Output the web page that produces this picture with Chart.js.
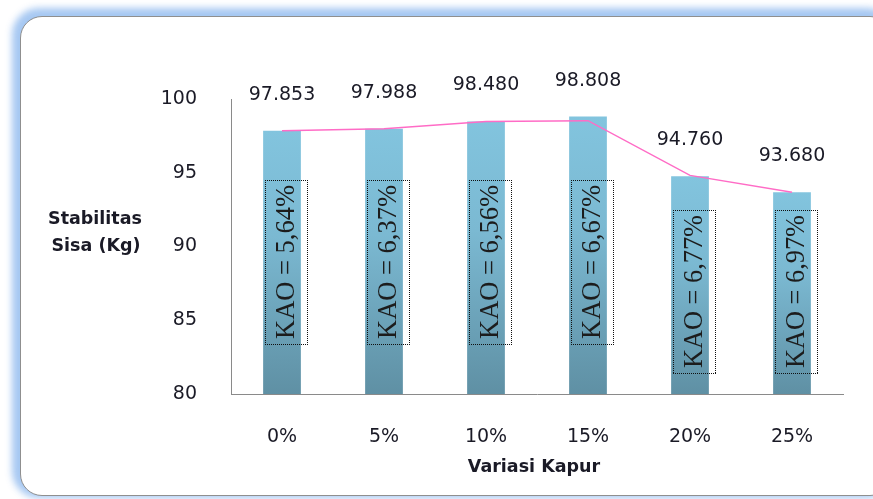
<!DOCTYPE html>
<html lang="id">
<head>
    <meta charset="UTF-8">
    <title>Stabilitas Sisa</title>
    <script src="https://cdn.jsdelivr.net/npm/chart.js@4.4.1/dist/chart.umd.min.js"></script>
    <style>
        html, body {
            margin: 0;
            padding: 0;
            background: #fff;
            overflow: hidden;
        }
        #card {
            position: absolute;
            left: 20px;
            top: 16px;
            width: 870px;
            height: 478px;
            border: 1px solid #8f8f8f;
            border-radius: 22px;
            background: #fff;
            box-shadow: -3px -3px 7px 5px rgba(150, 190, 240, 0.85);
        }
        #wrap {
            position: absolute;
            left: 0;
            top: 0;
            width: 873px;
            height: 499px;
        }
    </style>
</head>
<body>
    <div id="card"></div>
    <div id="wrap">
        <canvas id="myChart"></canvas>
    </div>

    <script>
        const categories = ['0%', '5%', '10%', '15%', '20%', '25%'];
        const stabilitas = [97.853, 97.988, 98.480, 98.808, 94.760, 93.680];
        const trendLine = [97.85, 97.99, 98.48, 98.53, 94.82, 93.68];
        const kaoLabels = ['KAO = 5,64%', 'KAO = 6,37%', 'KAO = 6,56%', 'KAO = 6,67%', 'KAO = 6,77%', 'KAO = 6,97%'];
        const yTicks = [80, 85, 90, 95, 100];
        const yTitle = ['Stabilitas', 'Sisa (Kg)'];
        const xTitle = 'Variasi Kapur';

        const textColor = '#1a1a26';
        const tickFont = { family: 'DejaVu Sans', size: 19 };
        const BAR_SET = 1; // index of the bar dataset

        function barFill(c) {
            if (c.type !== 'data' || !c.chart.chartArea) return '#78b6cf';
            const y = c.chart.scales.y;
            const top = y.getPixelForValue(c.raw);
            const bottom = y.getPixelForValue(y.min);
            const g = c.chart.ctx.createLinearGradient(0, top, 0, bottom);
            g.addColorStop(0, '#82c4de');
            g.addColorStop(0.4, '#7bb9d2');
            g.addColorStop(1, '#5f90a4');
            return g;
        }

        // value labels above the bars
        const valueLabels = {
            id: 'valueLabels',
            afterDatasetsDraw(chart) {
                const ctx = chart.ctx;
                const meta = chart.getDatasetMeta(BAR_SET);
                ctx.save();
                ctx.font = '19px "DejaVu Sans"';
                ctx.fillStyle = textColor;
                ctx.textAlign = 'center';
                ctx.textBaseline = 'middle';
                meta.data.forEach((bar, i) => {
                    ctx.fillText(stabilitas[i].toFixed(3), bar.x, bar.y - 36);
                });
                ctx.restore();
            }
        };

        // dotted KAO boxes with rotated text
        const kaoBoxes = {
            id: 'kaoBoxes',
            afterDatasetsDraw(chart, args, opts) {
                const ctx = chart.ctx;
                const y = chart.scales.y;
                const meta = chart.getDatasetMeta(BAR_SET);
                meta.data.forEach((bar, i) => {
                    const span = opts.spans[i];
                    const top = Math.round(y.getPixelForValue(span[1]));
                    const bottom = Math.round(y.getPixelForValue(span[0]));
                    const left = Math.round(bar.x - bar.width / 2 + 2);
                    const right = Math.round(bar.x + bar.width / 2 + 6);

                    ctx.save();
                    // dotted frame, one dot every second pixel
                    ctx.fillStyle = '#101010';
                    for (let x = left; x <= right; x += 2) {
                        ctx.fillRect(x, top, 1, 1);
                        ctx.fillRect(x, bottom, 1, 1);
                    }
                    for (let yy = top; yy <= bottom; yy += 2) {
                        ctx.fillRect(left, yy, 1, 1);
                        ctx.fillRect(right, yy, 1, 1);
                    }

                    ctx.translate((left + right) / 2, (top + bottom) / 2);
                    ctx.rotate(-Math.PI / 2);
                    ctx.font = '28px "Liberation Serif"';
                    const w = ctx.measureText(kaoLabels[i]).width;
                    ctx.scale((bottom - top - 10) / w, 1);
                    ctx.fillStyle = '#1c1c1c';
                    ctx.textAlign = 'center';
                    ctx.textBaseline = 'middle';
                    ctx.fillText(kaoLabels[i], 0, 1);
                    ctx.restore();
                });
            }
        };

        // horizontal axis titles like the spreadsheet chart
        const axisTitles = {
            id: 'axisTitles',
            afterDraw(chart) {
                const ctx = chart.ctx;
                const area = chart.chartArea;
                ctx.save();
                ctx.font = 'bold 17.5px "DejaVu Sans"';
                ctx.fillStyle = textColor;
                ctx.textAlign = 'center';
                ctx.textBaseline = 'middle';
                ctx.fillText(yTitle[0], 95, 219);
                ctx.fillText(yTitle[1], 96, 246);
                ctx.fillText(xTitle, (area.left + area.right) / 2 - 3, 467);
                ctx.restore();
            }
        };

        const ctx = document.getElementById('myChart').getContext('2d');
        const chart = new Chart(ctx, {
            data: {
                labels: categories,
                datasets: [
                    {
                        type: 'line',
                        label: 'Trend',
                        data: trendLine,
                        borderColor: '#ff6cc6',
                        borderWidth: 1.5,
                        pointRadius: 0,
                        tension: 0,
                        order: 0
                    },
                    {
                        type: 'bar',
                        label: 'Stabilitas Sisa',
                        data: stabilitas,
                        backgroundColor: barFill,
                        borderWidth: 0,
                        categoryPercentage: 1,
                        barPercentage: 0.37,
                        order: 1
                    }
                ]
            },
            options: {
                responsive: true,
                maintainAspectRatio: false,
                animation: false,
                layout: {
                    padding: { left: 0, top: 99, right: 30, bottom: 0 }
                },
                plugins: {
                    legend: { display: false },
                    tooltip: { enabled: false },
                    kaoBoxes: {
                        spans: [[83.4, 94.5], [83.4, 94.5], [83.4, 94.5], [83.4, 94.5], [81.4, 92.5], [81.4, 92.5]]
                    }
                },
                scales: {
                    x: {
                        offset: true,
                        grid: { display: false },
                        border: { display: true, color: '#8a8a8a', width: 1 },
                        ticks: { color: textColor, font: tickFont, padding: 24, maxRotation: 0 },
                        afterFit: s => { s.height = 105; }
                    },
                    y: {
                        min: 80,
                        max: 100,
                        grid: { display: false },
                        border: { display: true, color: '#8a8a8a', width: 1 },
                        ticks: { color: textColor, font: tickFont, padding: 26 },
                        afterBuildTicks: s => { s.ticks = yTicks.map(v => ({ value: v })); },
                        afterFit: s => { s.width = 231; }
                    }
                }
            },
            plugins: [kaoBoxes, valueLabels, axisTitles]
        });
    </script>
</body>
</html>
